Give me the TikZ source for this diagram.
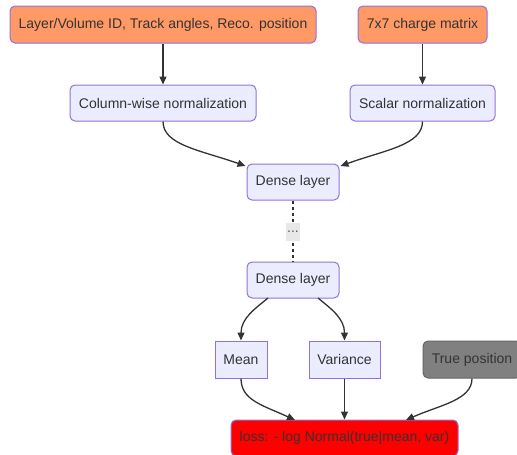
\documentclass[tikz,border=0pt]{standalone}
\usepackage{fontspec}
\setmainfont{Liberation Sans}
\usetikzlibrary{arrows.meta}
\definecolor{txt}{HTML}{333333}
\definecolor{brd}{HTML}{9370DB}
\definecolor{lav}{HTML}{ECECFF}
\definecolor{org}{HTML}{FF9966}
\definecolor{gry}{HTML}{808080}
\definecolor{gbrd}{HTML}{666666}
\definecolor{lblbg}{HTML}{E8E8E8}
\tikzset{
  box/.style={draw=brd, line width=1pt, fill=lav, text=txt, font=\fontsize{14pt}{16pt}\selectfont,
    inner sep=0pt, minimum height=37pt, anchor=center},
  rbox/.style={box, rounded corners=5pt},
  inbox/.style={rbox, fill=org},
  edge/.style={draw=txt, line width=1.3pt, -{Triangle[length=8pt,width=7pt]}},
  dotedge/.style={draw=txt, line width=2pt, dash pattern=on 3pt off 3pt},
  elabel/.style={fill=lblbg, text=txt!80, font=\fontsize{14pt}{16pt}\selectfont, inner sep=1pt, minimum height=18pt, minimum width=12pt}
}
\begin{document}
\begin{tikzpicture}[x=1pt,y=-1pt]
\useasboundingbox (0,0) rectangle (517,455);
\clip (0,0) rectangle (517,455);
\node[inbox, minimum width=306pt] (in1) at (163,24.5) {Layer/Volume ID, Track angles, Reco. position};
\node[inbox, minimum width=129pt] (in2) at (422.5,24.5) {7x7 charge matrix};
\node[rbox, minimum width=186pt, minimum height=36pt] (cn) at (163,103) {Column-wise normalization};
\node[rbox, minimum width=145pt, minimum height=36pt] (sn) at (422.5,103) {Scalar normalization};
\node[rbox, minimum width=92pt, minimum height=36pt] (d1) at (293,182) {Dense layer};
\node[rbox, minimum width=92pt, minimum height=36pt] (d2) at (293,280) {Dense layer};
\node[box, minimum width=52pt] (mean) at (241,359.5) {Mean};
\node[box, minimum width=71pt] (var) at (344.5,359.5) {Variance};
\node[rbox, fill=gry, draw=gbrd, minimum width=98pt] (tp) at (472,359.5) {True position};
\node[rbox, fill=red, minimum width=227pt, minimum height=36pt] (loss) at (344.5,438) {loss: - log Normal(true|mean, var)};

\draw[edge] (in1.south) -- (cn.north);
\draw[edge] (in2.south) -- (sn.north);
\coordinate (d1l) at (245.5,166);
\coordinate (d1r) at (340.5,166);
\draw[edge] (cn.south) .. controls (163,145) and (200,150) .. (d1l);
\draw[edge] (sn.south) .. controls (422.5,145) and (385,150) .. (d1r);
\draw[dotedge] (d1.south) -- (d2.north);
\node[elabel] (dots) at (293,232) {...};
\coordinate (d2l) at (268,298);
\coordinate (d2r) at (318,298);
\draw[edge] (d2l) .. controls (256,308) and (241,318) .. (mean.north);
\draw[edge] (d2r) .. controls (330,308) and (344.5,318) .. (var.north);
\coordinate (lossl) at (295,420);
\coordinate (lossr) at (406,420);
\draw[edge] (mean.south) .. controls (241,400) and (262,405) .. (lossl);
\draw[edge] (var.south) -- (loss.north);
\draw[edge] (tp.south) .. controls (472,400) and (440,405) .. (lossr);
\end{tikzpicture}
\end{document}
